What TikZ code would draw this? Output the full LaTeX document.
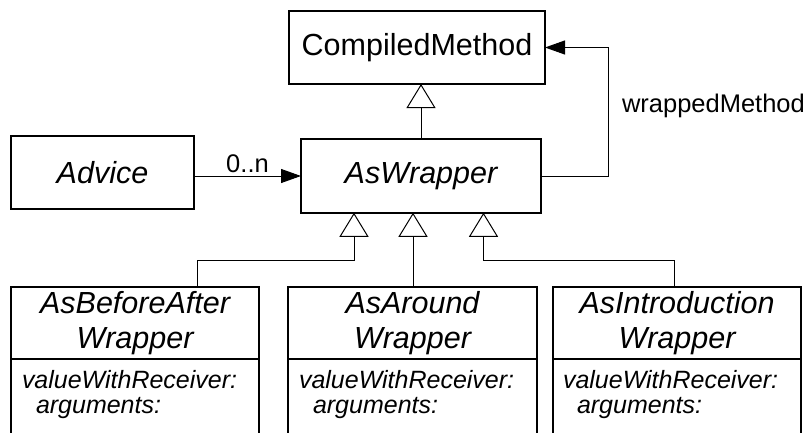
\documentclass[tikz,border=0pt]{standalone}
\usepackage{fontspec}
\setmainfont{Liberation Sans}
\usetikzlibrary{arrows.meta}
\begin{document}
\begin{tikzpicture}[x=1pt,y=-1pt,
  every node/.style={outer sep=0pt, inner sep=0pt},
  cls/.style={draw, line width=1.6pt, align=center,
    font=\fontsize{30.5}{35}\selectfont},
  abstract/.style={cls, font=\fontsize{30.5}{35}\selectfont\itshape},
  compartment/.style={draw, line width=1.6pt, minimum height=100pt},
  member/.style={font=\fontsize{25}{22}\selectfont\itshape, anchor=base west},
  lbl/.style={font=\fontsize{25.5}{30}\selectfont},
  conn/.style={line width=1pt},
  inh/.style={conn, -{Triangle[open, length=24pt, width=29pt]}},
  assoc/.style={conn, -{Triangle[length=20pt, width=14pt]}}]
\useasboundingbox (0,0) rectangle (807,432);
\clip (0,0) rectangle (807,432);

% classes
\node[cls, minimum width=256pt, minimum height=73pt] (cm) at (417,47.5) {CompiledMethod};
\node[abstract, minimum width=240pt, minimum height=73.5pt] (aw) at (421,176) {AsWrapper};
\node[abstract, minimum width=183pt, minimum height=73pt] (adv) at (102.5,172.5) {Advice};

\node[abstract, minimum width=248pt, minimum height=72pt] (b1) at (135,323) {AsBeforeAfter\\Wrapper};
\node[abstract, minimum width=249pt, minimum height=72pt] (b2) at (412.5,323) {AsAround\\Wrapper};
\node[abstract, minimum width=248pt, minimum height=72pt] (b3) at (677,323) {AsIntroduction\\Wrapper};

% method compartments
\node[compartment, minimum width=248pt, anchor=north] (b1m) at (b1.south) {};
\node[compartment, minimum width=249pt, anchor=north] (b2m) at (b2.south) {};
\node[compartment, minimum width=248pt, anchor=north] (b3m) at (b3.south) {};

\node[member] (b1v) at ([xshift=11pt,yshift=-29pt]b1.south west) {valueWithReceiver:};
\node[member] (b1a) at ([xshift=14pt,yshift=-25pt]b1v.base west) {arguments:};
\node[member] (b2v) at ([xshift=11pt,yshift=-29pt]b2.south west) {valueWithReceiver:};
\node[member] (b2a) at ([xshift=14pt,yshift=-25pt]b2v.base west) {arguments:};
\node[member] (b3v) at ([xshift=10pt,yshift=-29pt]b3.south west) {valueWithReceiver:};
\node[member] (b3a) at ([xshift=14pt,yshift=-25pt]b3v.base west) {arguments:};

% generalizations
\draw[inh] (aw.north) -- (aw.north |- cm.south);
\draw[inh] ([xshift=62pt]b1.north) |- ([xshift=-67pt,yshift=-48pt]aw.south) -- ([xshift=-67pt]aw.south);
\draw[inh] ([xshift=0.5pt]b2.north) -- ([xshift=0.5pt]b2.north |- aw.south);
\draw[inh] ([xshift=-3pt]b3.north) |- ([xshift=62.5pt,yshift=-48pt]aw.south) -- ([xshift=62.5pt]aw.south);

% associations
\draw[assoc] (adv.east |- aw.west) -- node[lbl, anchor=base, yshift=4pt] (mult) {0..n} (aw.west);
\draw[assoc] (aw.east) -- ++(67,0) coordinate (wc)
  |- node[lbl, pos=0.25, anchor=base west, xshift=14pt, yshift=-1pt] (wm) {wrappedMethod} (cm.east);
\end{tikzpicture}
\end{document}
